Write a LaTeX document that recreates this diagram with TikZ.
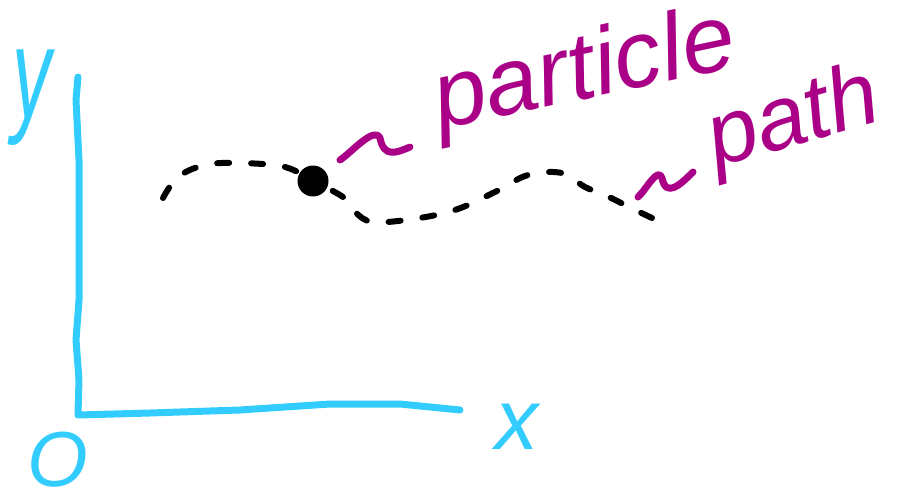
\documentclass[tikz,border=0pt]{standalone}
\usepackage{fontspec}
\setmainfont{Liberation Sans}
\usetikzlibrary{positioning}
\definecolor{axiscyan}{RGB}{51,204,255}
\definecolor{notemagenta}{RGB}{170,0,136}
\tikzset{
  axisline/.style={draw=axiscyan,line width=7pt,line cap=round,line join=round},
  axislabel/.style={text=axiscyan,inner sep=0pt,font=\itshape},
  trail/.style={draw=black,line width=6pt,line cap=round,
    dash pattern=on 12pt off 22pt},
  particledot/.style={circle,fill=black,minimum size=31pt,inner sep=0pt},
  note/.style={text=notemagenta,inner sep=0pt},
  squiggle/.style={draw=notemagenta,line width=7pt,line cap=round,line join=round}
}

\begin{document}
\begin{tikzpicture}[x=1pt,y=-1pt]
  \useasboundingbox (0,0) rectangle (898,498);
  % axes
  \coordinate (origin) at (78,415);
  \draw[axisline] (78,77) -- (76,100) -- (79,160) -- (79,300) -- (76,340)
    -- (79,380) -- (origin) -- (150,413) -- (240,410) -- (330,404)
    -- (400,404) -- (460,410);
  \node[axislabel,xscale=0.6,anchor=base,
    font=\fontsize{130}{130}\selectfont\itshape] (ylab) at (32,118) {y};
  \node[axislabel,font=\fontsize{86}{86}\selectfont\itshape] (xlab) at (517,427) {x};
  \node[axislabel,font=\fontsize{78}{78}\selectfont\itshape] (olab) at (58,460) {O};
  % the path and the particle
  \coordinate (pos) at (313,181);
  \draw[trail] plot[smooth,tension=0.6] coordinates {(163,198) (178,177)
    (205,165) (240,163) (285,167) (pos)};
  \draw[trail] plot[smooth,tension=0.6] coordinates {(652,218) (631,208)
    (609,197) (585,187) (562,173) (528,175) (495,192) (455,210) (413,219)
    (373,222) (355,212) (343,197) (pos)};
  \node[particledot] (particle) at (pos) {};
  % notes
  \node[note,rotate=12,anchor=base west,
    font=\fontsize{95}{95}\selectfont\itshape] (plabel) at (440,130) {particle};
  \node[note,rotate=16,anchor=base west,
    font=\fontsize{90}{90}\selectfont\itshape] (pathlabel) at (716,168) {path};
  \draw[squiggle] (340,160) .. controls (352,152) and (374,126) .. (380,138)
    .. controls (384,158) and (396,153) .. (410,147);
  \draw[squiggle] (638,197) .. controls (646,190) and (658,166) .. (662,178)
    .. controls (666,198) and (680,185) .. (693,172);
\end{tikzpicture}
\end{document}
